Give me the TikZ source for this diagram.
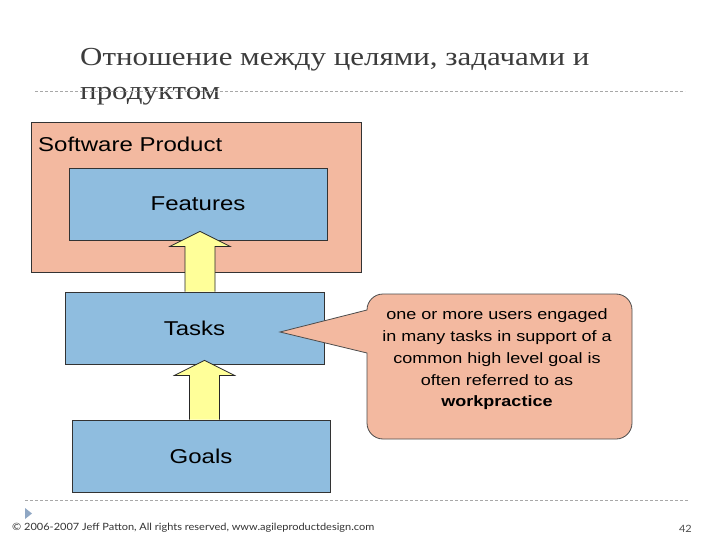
\documentclass[tikz,border=0pt]{standalone}
\usepackage{fontspec}
\setmainfont{Liberation Sans}
\newfontfamily\boxfont[FakeStretch=1.2]{Liberation Sans}
\newfontfamily\titlefont[FakeStretch=1.19]{Liberation Serif}
\newfontfamily\footfont[FakeStretch=1.1]{Lato}
\usetikzlibrary{calc}
\definecolor{salmon}{HTML}{F3B9A0}
\definecolor{boxblue}{HTML}{8FBDDF}
\definecolor{arrowyellow}{HTML}{FFFF99}
\definecolor{titlegray}{HTML}{3C3C3C}
\definecolor{rulegray}{HTML}{A8A8A8}
\definecolor{trigray}{HTML}{8FA7C4}
\begin{document}
\begin{tikzpicture}[x=1pt,y=-1pt,
  frame/.style={draw=black!80, line width=0.8pt, inner sep=0pt},
  bluebox/.style={frame, fill=boxblue, minimum width=258pt, minimum height=72pt,
    font=\boxfont\fontsize{20}{24}\selectfont},
  blockarrow/.style={draw=black!85, line width=0.8pt, fill=arrowyellow, line join=miter},
  rule/.style={draw=rulegray, line width=0.6pt, dash pattern=on 3pt off 2pt}]
\useasboundingbox (0,0) rectangle (720,540);
\fill[white] (0,0) rectangle (720,540);

% title
\node[anchor=base west, align=left, inner sep=0pt, text=titlegray,
  font=\titlefont\fontsize{26}{34}\selectfont] (title) at (80,100)
  {Отношение между целями, задачами и\\продуктом};
\draw[rule] (35,91) -- (685,91);

% boxes
\node[frame, fill=salmon, minimum width=330pt, minimum height=150pt] (product) at (196,197) {};
\node[anchor=base west, inner sep=0pt, font=\boxfont\fontsize{20}{24}\selectfont] (productlabel)
  at (38,152) {Software Product};
\node[bluebox] (features) at (198,204) {Features};
\node[bluebox, minimum width=259pt] (tasks) at (194.5,328) {Tasks};
\node[bluebox] (goals) at (201,456) {Goals};

% block arrows
\coordinate (ax1) at (200,0);
\coordinate (ax2) at (204.5,0);
\draw[blockarrow]
  ($(ax1 |- tasks.north)+(-15,0)$) -- ($(ax1 |- features.south)+(-15,6)$)
  -- ($(ax1 |- features.south)+(-30,6)$) -- ($(ax1 |- features.south)+(0,-9)$)
  -- ($(ax1 |- features.south)+(30,6)$) -- ($(ax1 |- features.south)+(15,6)$)
  -- ($(ax1 |- tasks.north)+(15,0)$);
\draw[blockarrow]
  ($(ax2 |- goals.north)+(-15,0)$) -- ($(ax2 |- tasks.south)+(-15,11)$)
  -- ($(ax2 |- tasks.south)+(-30,11)$) -- ($(ax2 |- tasks.south)+(0,-4)$)
  -- ($(ax2 |- tasks.south)+(30,11)$) -- ($(ax2 |- tasks.south)+(15,11)$)
  -- ($(ax2 |- goals.north)+(15,0)$);

% callout
\draw[draw=black!70, line width=0.8pt, fill=salmon]
  (367,353) [rounded corners=16] -- (367,439) -- (632,439) -- (632,294) -- (367,294)
  [sharp corners] -- (367,310) -- (280,332) -- cycle;
\node[align=center, inner sep=0pt, font=\boxfont\fontsize{15}{21.7}\selectfont] (note) at (497,359.5)
  {one or more users engaged\\in many tasks in support of a\\common high level goal is\\often referred to as\\\textbf{workpractice}};

% footer
\draw[rule] (25,500) -- (688,500);
\fill[trigray] (25,508) -- (32,513.5) -- (25,519) -- cycle;
\node[anchor=base west, inner sep=0pt, text=black!80, font=\footfont\fontsize{10}{12}\selectfont] (copy)
  at (12,530) {© 2006-2007 Jeff Patton, All rights reserved, www.agileproductdesign.com};
\node[anchor=base east, inner sep=0pt, text=black!70, font=\footfont\fontsize{10}{12}\selectfont] (page)
  at (692,532) {42};
\end{tikzpicture}
\end{document}
